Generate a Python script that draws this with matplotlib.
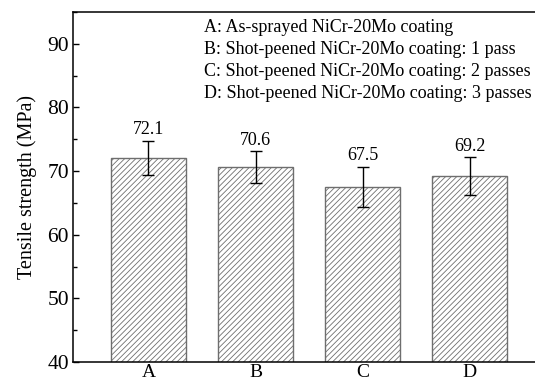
import matplotlib.pyplot as plt
from matplotlib.ticker import MultipleLocator

categories = ["A", "B", "C", "D"]
strength = [72.1, 70.6, 67.5, 69.2]
errors = [2.7, 2.5, 3.2, 3.0]
legend_lines = [
    "A: As-sprayed NiCr-20Mo coating",
    "B: Shot-peened NiCr-20Mo coating: 1 pass",
    "C: Shot-peened NiCr-20Mo coating: 2 passes",
    "D: Shot-peened NiCr-20Mo coating: 3 passes",
]

plt.rcParams['font.family'] = ['Liberation Serif', 'DejaVu Serif']
plt.rcParams['hatch.color'] = '#3a3a3a'
plt.rcParams['hatch.linewidth'] = 0.6

fig = plt.figure(figsize=(5.35, 3.81), dpi=100)
ax = fig.add_axes([73 / 535, 19 / 381, 1 - 73 / 535, 350 / 381])

x = list(range(len(categories)))
ax.bar(x, strength, width=0.70, color='white', edgecolor='#6e6e6e',
       linewidth=1.0, hatch='//////', zorder=2)
ax.errorbar(x, strength, yerr=errors, fmt='none', ecolor='black',
            elinewidth=1.0, capsize=4, capthick=1.0, zorder=3)

for xi, v, e in zip(x, strength, errors):
    ax.text(xi, v + e + 0.4, f"{v:.1f}", ha='center', va='bottom', fontsize=13)

ax.set_xlim(-0.705, 3.61)
ax.set_ylim(40, 95)
ax.set_xticks(x)
ax.set_xticklabels(categories)
ax.yaxis.set_major_locator(MultipleLocator(10))
ax.yaxis.set_minor_locator(MultipleLocator(5))
ax.set_yticks([40, 50, 60, 70, 80, 90])
ax.tick_params(axis='y', which='major', direction='in', length=4, width=1.0, labelsize=15.5, pad=3)
ax.tick_params(axis='y', which='minor', direction='in', length=3, width=1.0)
ax.tick_params(axis='x', length=0, labelsize=14, pad=1.5)
ax.spines['right'].set_visible(False)
for s in ['left', 'bottom', 'top']:
    ax.spines[s].set_linewidth(1.1)

ax.set_ylabel("Tensile strength (MPa)", fontsize=14.5, labelpad=7)

for i, line in enumerate(legend_lines):
    ax.text((204 - 73) / 462, 1 - (28 + 22 * i - 12) / 350, line, transform=ax.transAxes,
            ha='left', va='center', fontsize=13)

fig.savefig("out.png", dpi=100)
